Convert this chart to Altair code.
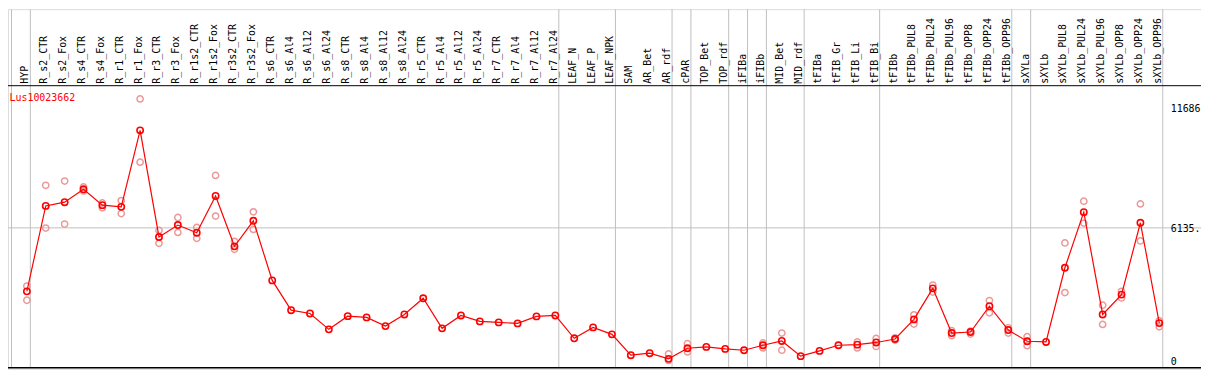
import altair as alt
import pandas as pd

gene = "Lus10023662"

samples = [
    "HYP", "R_s2_CTR", "R_s2_Fox", "R_s4_CTR", "R_s4_Fox", "R_r1_CTR", "R_r1_Fox",
    "R_r3_CTR", "R_r3_Fox", "R_r1s2_CTR", "R_r1s2_Fox", "R_r3s2_CTR", "R_r3s2_Fox",
    "R_s6_CTR", "R_s6_Al4", "R_s6_Al12", "R_s6_Al24", "R_s8_CTR", "R_s8_Al4",
    "R_s8_Al12", "R_s8_Al24", "R_r5_CTR", "R_r5_Al4", "R_r5_Al12", "R_r5_Al24",
    "R_r7_CTR", "R_r7_Al4", "R_r7_Al12", "R_r7_Al24", "LEAF_N", "LEAF_P", "LEAF_NPK",
    "SAM", "AR_Bet", "AR_rdf", "cPAR", "TOP_Bet", "TOP_rdf", "iFIBa", "iFIBb",
    "MID_Bet", "MID_rdf", "tFIBa", "tFIB_Gr", "tFIB_Li", "tFIB_Bi", "tFIBb",
    "tFIBb_PUL8", "tFIBb_PUL24", "tFIBb_PUL96", "tFIBb_OPP8", "tFIBb_OPP24",
    "tFIBb_OPP96", "sXYLa", "sXYLb", "sXYLb_PUL8", "sXYLb_PUL24", "sXYLb_PUL96",
    "sXYLb_OPP8", "sXYLb_OPP24", "sXYLb_OPP96",
]

means = [
    3208, 7149, 7319, 7915, 7182, 7104, 10633, 5715, 6265, 5912, 7608, 5284, 6462,
    3712, 2337, 2186, 1453, 2062, 2003, 1604, 2140, 2887, 1499, 2094, 1819, 1774,
    1728, 2049, 2094, 1040, 1544, 1224, 261, 353, 92, 582, 642, 550, 490, 720, 917,
    215, 458, 720, 747, 848, 1008, 1911, 3346, 1283, 1329, 2521, 1421, 903, 871,
    4294, 6861, 2140, 3057, 6370, 1742,
]

N = None
rep_hi = [
    3451, 8098, 8295, 8020, 7287, 7392, 12085, 6018, 6613, 6155, 8556, 5513, 6875,
    N, N, N, N, N, N, N, N, N, N, N, N, N, N, N, N, N, N, N, N, N,
    320, 793, N, N, N, 825, 1283, N, N, N, 871, 1031, 1054, 2122, 3497, 1389, 1375,
    2782, 1526, 1114, N, 5440, 7365, 2566, 3208, 7241, 1847,
]
rep_lo = [
    2796, 6127, 6311, 7837, 7058, 6797, 9166, 5422, 5926, 5651, 6677, 5147, 6063,
    N, N, N, N, N, N, N, N, N, N, N, N, N, N, N, N, N, N, N, N, N,
    20, 412, N, N, N, 596, 490, N, N, N, 596, 665, 962, 1696, 3176, 1159, 1237,
    2214, 1283, 701, N, 3149, 6357, 1682, 2901, 5532, 1572,
]

# group separators: drawn just after these column indices
group_ends = [-1, 0, 28, 31, 34, 35, 37, 38, 39, 41, 45, 52, 53, 60]

axis_values = [11686, 6135, 0]
axis_labels = ["11686", "6135.", "0"]

W, H = 1201, 362
FONT = "DejaVu Sans Mono"
RED = "#ff0000"
REP = "#eb9898"
GRID = "#c0c0c0"

xscale = alt.Scale(domain=[-1, W / 19 - 1], range=[0, W], nice=False, zero=False)
yscale = alt.Scale(domain=[-8 * 11686 / 255, 354 * 11686 / 255], range=[H, 0],
                   nice=False, zero=False)

main = pd.DataFrame({"k": list(range(len(samples))), "sample": samples, "v": means})
reps = []
for k, (a, b) in enumerate(zip(rep_hi, rep_lo)):
    for r in (a, b):
        if r is not None:
            reps.append({"k": k, "v": r})
reps = pd.DataFrame(reps)
seps = pd.DataFrame({"k": [g + 3.5 / 19 for g in group_ends]})
ylab = pd.DataFrame({"v": axis_values, "label": axis_labels})
one = pd.DataFrame({"a": [0]})

X = alt.X("k:Q", scale=xscale, axis=None)
Y = alt.Y("v:Q", scale=yscale, axis=None)

vgrid = alt.Chart(seps).mark_rule(color=GRID, strokeWidth=1).encode(
    x=X, y=alt.value(0), y2=alt.value(H - 1))
hgrid = alt.Chart(pd.DataFrame({"v": [6135]})).mark_rule(color=GRID, strokeWidth=1).encode(
    y=Y, x=alt.value(0), x2=alt.value(W))
top_line = alt.Chart(one).mark_rule(color="black", strokeWidth=1).encode(
    x=alt.value(0), x2=alt.value(W), y=alt.value(77), y2=alt.value(77))
bottom_line = alt.Chart(one).mark_rule(color="black", strokeWidth=1.5).encode(
    x=alt.value(0), x2=alt.value(W), y=alt.value(H - 1), y2=alt.value(H - 1))

col_labels = alt.Chart(main).mark_text(
    angle=270, align="left", baseline="middle", font=FONT, fontSize=10,
    color="black", dy=-1.5).encode(x=X, y=alt.value(75), text="sample:N")

title = alt.Chart(one).mark_text(
    align="left", baseline="alphabetic", font=FONT, fontSize=10, color=RED).encode(
    x=alt.value(1.5), y=alt.value(92.5), text=alt.value(gene))

right_labels = alt.Chart(ylab).mark_text(
    align="left", baseline="middle", font=FONT, fontSize=10, color="black", dy=1).encode(
    x=alt.value(1170.5), y=Y, text="label:N")

rep_pts = alt.Chart(reps).mark_point(
    shape="circle", filled=False, size=40, strokeWidth=1.5, color=REP, opacity=1).encode(
    x=X, y=Y)
line = alt.Chart(main).mark_line(color=RED, strokeWidth=1.2).encode(x=X, y=Y)
mean_pts = alt.Chart(main).mark_point(
    shape="circle", filled=False, size=40, strokeWidth=1.6, color=RED, opacity=1).encode(
    x=X, y=Y)

chart = alt.layer(
    vgrid, hgrid, top_line, bottom_line, col_labels, title, right_labels,
    rep_pts, line, mean_pts,
).properties(
    width=W, height=H, autosize=alt.AutoSizeParams(type="none"), padding=0,
).configure_view(stroke=None).configure(background="white")

chart.save("out.html", embed_options={"renderer": "svg", "actions": False})
